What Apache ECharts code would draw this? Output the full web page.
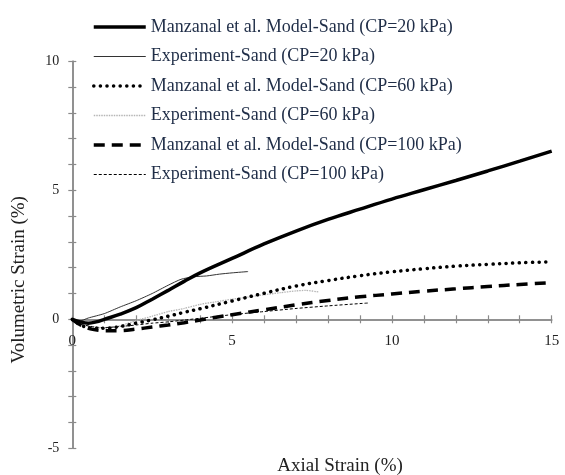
<!DOCTYPE html>
<html>
<head>
<meta charset="utf-8">
<script src="https://cdn.jsdelivr.net/npm/echarts@6/dist/echarts.min.js"></script>
<style>html,body{margin:0;padding:0;background:#fff;}#c{width:565px;height:475px;}</style>
</head>
<body>
<div id="c"></div>
<script>
// ---- data ----
const seriesNames = [
  'Manzanal et al. Model-Sand (CP=20 kPa)',
  'Experiment-Sand (CP=20 kPa)',
  'Manzanal et al. Model-Sand (CP=60 kPa)',
  'Experiment-Sand (CP=60 kPa)',
  'Manzanal et al. Model-Sand (CP=100 kPa)',
  'Experiment-Sand (CP=100 kPa)'
];
const model20X = [0, 0.25, 0.5, 0.75, 1.0, 1.5, 2.0, 2.5, 3.0, 3.5, 4.0, 5, 6, 7, 8, 9, 10, 11, 12, 13, 14, 15];
const model20Y = [0, -0.1, -0.15, -0.1, 0, 0.2, 0.45, 0.78, 1.12, 1.47, 1.8, 2.36, 2.92, 3.42, 3.87, 4.27, 4.66, 5.02, 5.38, 5.75, 6.13, 6.52];
const exp20X = [0, 0.2, 0.5, 1.0, 1.5, 2.0, 2.5, 3.0, 3.4, 3.8, 4.2, 4.6, 5.0, 5.5];
const exp20Y = [0, -0.08, 0.05, 0.22, 0.48, 0.72, 1.0, 1.32, 1.55, 1.65, 1.68, 1.75, 1.8, 1.85];
const model60X = [0, 0.3, 0.6, 1.0, 1.5, 2.0, 2.5, 3.0, 3.5, 4, 5, 6, 7, 8, 9, 10, 11, 12, 13, 14, 15];
const model60Y = [0, -0.25, -0.33, -0.35, -0.28, -0.15, -0.02, 0.12, 0.27, 0.41, 0.71, 1.01, 1.29, 1.5, 1.69, 1.84, 1.96, 2.06, 2.13, 2.19, 2.23];
const exp60X = [0, 0.5, 1.0, 1.5, 2.0, 2.5, 3.0, 3.5, 4.0, 4.5, 5.0, 5.5, 6.0, 6.5, 7.0, 7.3, 7.7];
const exp60Y = [0, -0.25, -0.35, -0.25, -0.05, 0.12, 0.3, 0.42, 0.58, 0.68, 0.78, 0.86, 0.95, 1.03, 1.1, 1.12, 1.06];
const model100X = [0, 0.3, 0.6, 1.0, 1.5, 2.0, 2.5, 3.0, 3.5, 4.0, 4.5, 5, 6, 7, 8, 9, 10, 11, 12, 13, 14, 15];
const model100Y = [0, -0.25, -0.38, -0.44, -0.44, -0.38, -0.3, -0.22, -0.13, -0.03, 0.08, 0.18, 0.37, 0.56, 0.73, 0.87, 0.98, 1.09, 1.18, 1.27, 1.35, 1.42];
const exp100X = [0, 0.3, 0.7, 1.0, 1.5, 2.0, 2.5, 3.0, 3.5, 4.0, 5.0, 6.0, 7.0, 8.0, 9.0, 9.25];
const exp100Y = [0, -0.2, -0.3, -0.32, -0.28, -0.22, -0.15, -0.1, -0.03, 0.04, 0.18, 0.3, 0.42, 0.52, 0.61, 0.63];
const xTicks = [0, 5, 10, 15];
const yTicks = [-5, 0, 5, 10];

function zip(xs, ys) { return xs.map((x, i) => [x, ys[i]]); }

const FONT = 'Liberation Serif';
const axisGray = '#8a8a8a';
const W = 565, H = 475;
const GRID = { left: 72.3, right: 13.3, top: 61.3, bottom: 26.7 };
const yMin = yTicks[0], yMax = yTicks[yTicks.length - 1];
// place the x axis on the y = 0 line (moved up from the grid bottom)
const gridH = H - GRID.top - GRID.bottom;
const xAxisOffset = -gridH * (0 - yMin) / (yMax - yMin);

function xAxisCfg(inside, withLabels) {
  return {
    type: 'value', min: xTicks[0], max: xTicks[xTicks.length - 1], interval: 5,
    position: 'bottom', offset: xAxisOffset,
    axisLine: { show: true, onZero: false, lineStyle: { color: axisGray, width: 1.5 } },
    axisTick: { show: true, inside: inside, length: 4, lineStyle: { color: axisGray, width: 1.2 } },
    minorTick: { show: true, splitNumber: 5, length: 4, lineStyle: { color: axisGray, width: 1.2 } },
    splitLine: { show: false },
    axisLabel: { show: withLabels, margin: 14, color: '#222', fontFamily: FONT, fontSize: 15 },
    name: withLabels ? 'Axial Strain (%)' : '',
    nameLocation: 'middle', nameGap: 137,
    nameTextStyle: { color: '#222', fontFamily: FONT, fontSize: 19, padding: [0, 0, 0, 56] }
  };
}
function yAxisCfg(inside, withLabels) {
  return {
    type: 'value', min: yMin, max: yMax, interval: 5,
    position: 'left',
    axisLine: { show: true, onZero: false, lineStyle: { color: axisGray, width: 1.5 } },
    axisTick: { show: true, inside: inside, length: 4, lineStyle: { color: axisGray, width: 1.2 } },
    minorTick: { show: true, splitNumber: 5, length: 4, lineStyle: { color: axisGray, width: 1.2 } },
    splitLine: { show: false },
    axisLabel: { show: withLabels, margin: 13, color: '#222', fontFamily: FONT, fontSize: 14 },
    name: withLabels ? 'Volumetric Strain (%)' : '',
    nameLocation: 'middle', nameGap: 44, nameRotate: 90,
    nameTextStyle: { color: '#222', fontFamily: FONT, fontSize: 19, padding: [0, 50, 0, 0] }
  };
}

const styles = [
  { color: '#000', width: 3.5, type: 'solid', smooth: 0.4 },
  { color: '#333', width: 1, type: 'solid', smooth: 0.2 },
  { color: '#000', width: 3.5, type: [0.1, 6.5], cap: 'round', smooth: 0.4 },
  { color: '#b5b5b5', width: 1.3, type: [1.5, 1], smooth: 0.2 },
  { color: '#000', width: 3.5, type: [11, 7], smooth: 0.4 },
  { color: '#000', width: 1, type: [3, 2], smooth: 0.2 }
];
const datas = [
  zip(model20X, model20Y), zip(exp20X, exp20Y),
  zip(model60X, model60Y), zip(exp60X, exp60Y),
  zip(model100X, model100Y), zip(exp100X, exp100Y)
];

function lineStyleOf(s) {
  return { color: s.color, width: s.width, type: s.type, cap: s.cap || 'butt' };
}

const chart = echarts.init(document.getElementById('c'), null, { renderer: 'canvas' });
chart.setOption({
  animation: false,
  backgroundColor: '#fff',
  grid: Object.assign({ containLabel: false, outerBoundsMode: 'none' }, GRID),
  legend: {
    orient: 'vertical', left: 87, top: 13,
    itemWidth: 52, itemHeight: 14, itemGap: 11.5,
    itemStyle: { opacity: 0 },
    textStyle: { color: '#1f2d47', fontFamily: FONT, fontSize: 18 },
    data: seriesNames.map((n, i) => ({ name: n, lineStyle: lineStyleOf(styles[i]), itemStyle: { opacity: 0 } }))
  },
  xAxis: [xAxisCfg(false, true), xAxisCfg(true, false)],
  yAxis: [yAxisCfg(false, true), yAxisCfg(true, false)],
  series: seriesNames.map((n, i) => ({
    name: n, type: 'line', xAxisIndex: 0, yAxisIndex: 0,
    data: datas[i], symbol: 'none', smooth: styles[i].smooth,
    itemStyle: { color: styles[i].color },
    lineStyle: lineStyleOf(styles[i]),
    z: i % 2 === 0 ? 3 : 2
  }))
});
</script>
</body>
</html>
